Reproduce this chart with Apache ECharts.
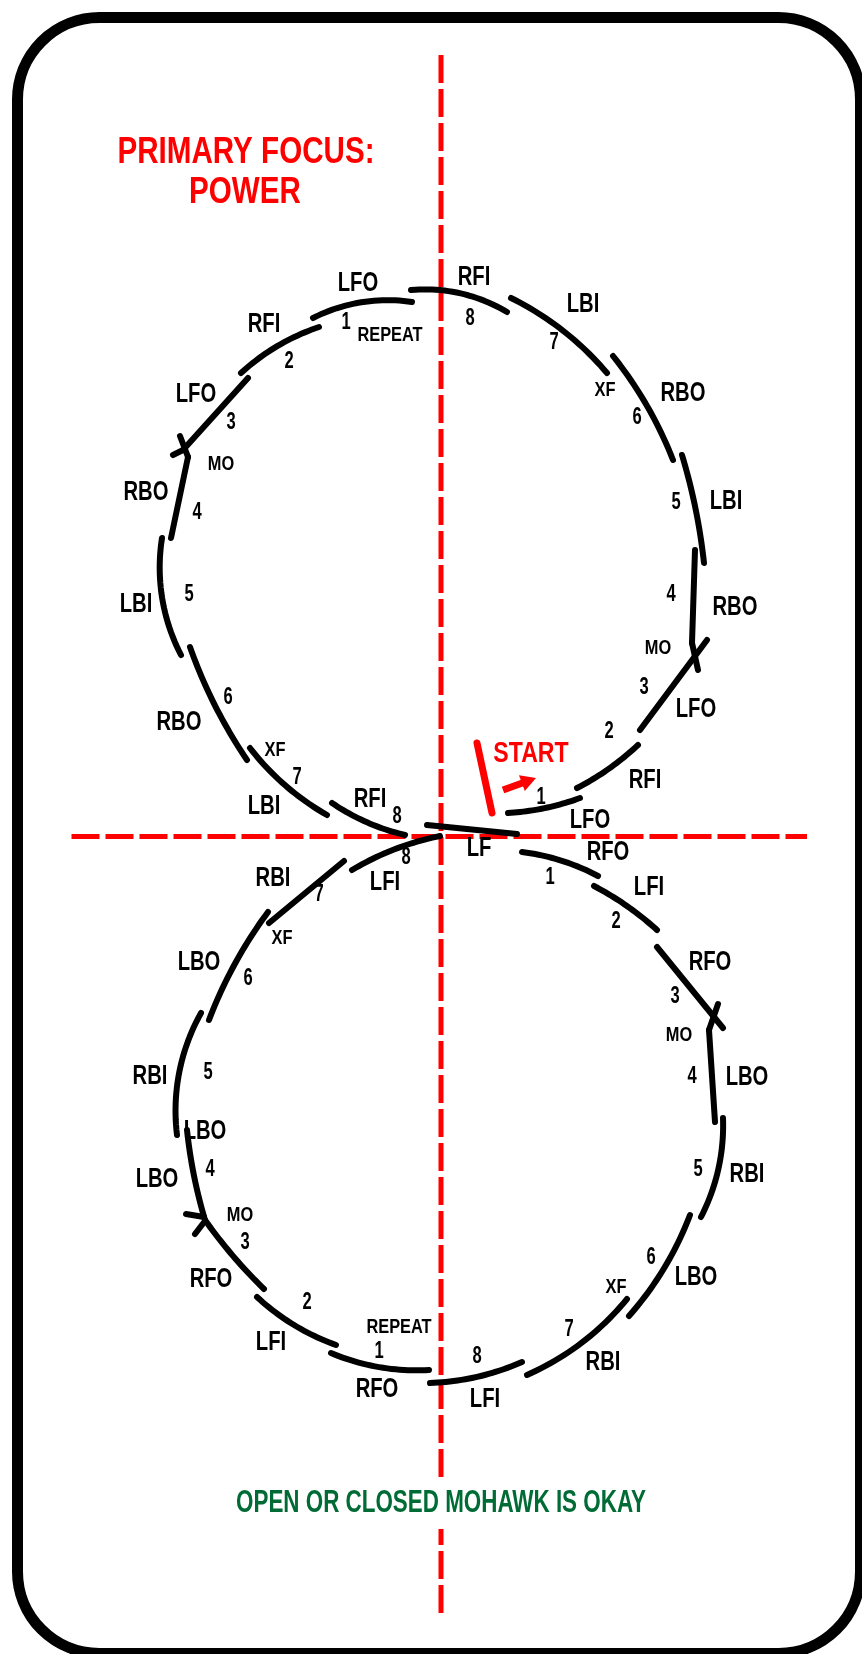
<!DOCTYPE html>
<html>
<head>
<meta charset="utf-8">
<style>
  html, body { margin: 0; padding: 0; background: #fff; }
  #chart { width: 862px; height: 1654px; }
</style>
<script src="https://cdn.jsdelivr.net/npm/echarts@6/dist/echarts.min.js"></script>
</head>
<body>
<div id="chart"></div>
<script>
// Positions are rink pixels: x to the right, y downwards (y axis inverted).
const frame = [17.5, 17.5, 860.5, 1653.5];

const loopCenters = [[432, 562], [448, 1108]];

// one entry per edge: [x1, y1, x2, y2, arc radius (0 = straight), loop]
const edges = [
  [313, 318, 412, 302, 165, 0],   // LFO 1 repeat
  [411, 290, 507, 312, 160, 0],   // RFI 8
  [511, 298, 607, 373, 300, 0],   // LBI 7
  [613, 356, 673, 460, 400, 0],   // RBO 6
  [682, 455, 704, 563, 600, 0],   // LBI 5
  [692, 643, 695, 550, 0, 0],     // RBO 4
  [640, 730, 707, 640, 0, 0],     // LFO 3
  [638, 745, 577, 788, 270, 0],   // RFI 2
  [580, 798, 508, 813, 250, 0],   // LFO 1
  [427, 825, 517, 834, 0, 0],     // LF
  [332, 803, 405, 835, 220, 0],   // RFI 8
  [250, 748, 327, 815, 260, 0],   // LBI 7
  [190, 647, 247, 760, 500, 0],   // RBO 6
  [162, 538, 181, 655, 190, 0],   // LBI 5
  [188, 457, 171, 538, 0, 0],     // RBO 4
  [248, 378, 183, 450, 0, 0],     // LFO 3
  [319, 327, 241, 373, 220, 0],   // RFI 2
  [522, 852, 598, 876, 220, 1],   // RFO 1
  [594, 886, 657, 930, 300, 1],   // LFI 2
  [657, 947, 723, 1028, 0, 1],    // RFO 3
  [709, 1030, 715, 1122, 0, 1],   // LBO 4
  [723, 1118, 701, 1217, 200, 1], // RBI 5
  [690, 1215, 629, 1316, 330, 1], // LBO 6
  [627, 1299, 527, 1375, 270, 1], // RBI 7
  [522, 1362, 430, 1383, 250, 1], // LFI 8
  [429, 1370, 331, 1353, 220, 1], // RFO 1 repeat
  [336, 1345, 257, 1297, 230, 1], // LFI 2
  [264, 1289, 205, 1220, 500, 1], // RFO 3
  [205, 1220, 187, 1130, 500, 1], // LBO 4
  [177, 1135, 201, 1013, 200, 1], // RBI 5
  [209, 1020, 268, 912, 450, 1],  // LBO 6
  [269, 923, 344, 861, 0, 1],     // RBI 7
  [352, 870, 440, 836, 280, 1]    // LFI 8
];

// mohawk crossings: short strokes [x1, y1, x2, y2]
const turnTicks = [
  [183, 450, 173, 455],
  [180, 436, 188, 457],
  [692, 643, 698, 670],
  [718, 1004, 709, 1030],
  [186, 1214, 204, 1217],
  [195, 1234, 205, 1221]
];

const verticalAxis = [[441, 55], [441, 1613]];
const horizontalAxis = [[71.5, 836.5], [807, 836.5]];
const startMark = [[477, 743], [492, 813]];
const startArrow = [[503, 790, 536, 778]];

const edgeLabels = [
  [358, 284, 'LFO'], [474, 278, 'RFI'], [264, 325, 'RFI'], [583, 305, 'LBI'],
  [196, 395, 'LFO'], [683, 394, 'RBO'], [146, 493, 'RBO'], [136, 605, 'LBI'],
  [179, 723, 'RBO'], [264, 807, 'LBI'], [370, 800, 'RFI'], [726, 502, 'LBI'],
  [735, 608, 'RBO'], [696, 710, 'LFO'], [645, 781, 'RFI'], [590, 821, 'LFO'],
  [479, 849, 'LF'],
  [608, 853, 'RFO'], [649, 888, 'LFI'], [710, 963, 'RFO'], [747, 1078, 'LBO'],
  [747, 1175, 'RBI'], [696, 1278, 'LBO'], [603, 1363, 'RBI'], [485, 1400, 'LFI'],
  [377, 1390, 'RFO'], [271, 1343, 'LFI'], [211, 1280, 'RFO'], [157, 1180, 'LBO'],
  [205, 1132, 'LBO'], [150, 1077, 'RBI'], [199, 963, 'LBO'], [273, 879, 'RBI'],
  [385, 883, 'LFI']
];

const countLabels = [
  [346, 323, '1'], [470, 319, '8'], [289, 362, '2'], [554, 343, '7'],
  [231, 423, '3'], [637, 418, '6'], [197, 513, '4'], [189, 595, '5'],
  [228, 698, '6'], [297, 778, '7'], [397, 817, '8'], [676, 503, '5'],
  [671, 595, '4'], [644, 688, '3'], [609, 732, '2'], [541, 798, '1'],
  [550, 878, '1'], [616, 922, '2'], [675, 997, '3'], [692, 1077, '4'],
  [698, 1170, '5'], [651, 1258, '6'], [569, 1330, '7'], [477, 1357, '8'],
  [379, 1352, '1'], [307, 1303, '2'], [245, 1243, '3'], [210, 1170, '4'],
  [208, 1073, '5'], [248, 979, '6'], [319, 895, '7'], [406, 858, '8']
];

const noteLabels = [
  [390, 335, 'REPEAT'], [605, 390, 'XF'], [221, 464, 'MO'], [275, 750, 'XF'],
  [658, 648, 'MO'], [679, 1035, 'MO'], [616, 1287, 'XF'], [399, 1327, 'REPEAT'],
  [240, 1215, 'MO'], [282, 938, 'XF']
];

const titleLines = [[246, 153, 'PRIMARY FOCUS:'], [245, 193, 'POWER']];
const startLabel = [[531, 754, 'START']];
const footNote = [[441, 1503, 'OPEN OR CLOSED MOHAWK IS OKAY']];

const FONT = '"Liberation Sans", Arial, sans-serif';
const RED = '#ff0000';

// circular arc through both ends, bulging away from the loop centre
function arcPoints(e) {
  const [x1, y1, x2, y2, r, loop] = e;
  if (!r) return [[x1, y1], [x2, y2]];
  const c = loopCenters[loop];
  const mx = (x1 + x2) / 2, my = (y1 + y2) / 2;
  const dx = x2 - x1, dy = y2 - y1, len = Math.hypot(dx, dy);
  const h = len / 2;
  const rr = Math.max(r, h + 0.01);
  let nx = -dy / len, ny = dx / len;
  if (nx * (c[0] - mx) + ny * (c[1] - my) < 0) { nx = -nx; ny = -ny; }
  const d = Math.sqrt(rr * rr - h * h);
  const cx = mx + nx * d, cy = my + ny * d;
  const a1 = Math.atan2(y1 - cy, x1 - cx);
  let da = Math.atan2(y2 - cy, x2 - cx) - a1;
  while (da > Math.PI) da -= 2 * Math.PI;
  while (da < -Math.PI) da += 2 * Math.PI;
  const pts = [];
  for (let i = 0; i <= 24; i++) {
    const a = a1 + da * i / 24;
    pts.push([cx + rr * Math.cos(a), cy + rr * Math.sin(a)]);
  }
  return pts;
}

// condensed bold text: the page font squeezed sideways
function textSeries(list, opts) {
  return {
    type: 'custom',
    coordinateSystem: 'cartesian2d',
    silent: true,
    z: 5,
    data: list.map((l) => [l[0], l[1]]),
    renderItem(params, api) {
      const l = list[params.dataIndex];
      const p = api.coord([l[0], l[1]]);
      return {
        type: 'text',
        x: p[0],
        y: p[1],
        scaleX: opts.scaleX,
        style: Object.assign({
          text: l[2],
          fill: opts.color,
          fontFamily: FONT,
          fontWeight: 'bold',
          fontSize: opts.size,
          align: 'center',
          verticalAlign: 'middle',
          textAlign: 'center',
          textVerticalAlign: 'middle'
        }, opts.extra || {})
      };
    }
  };
}

const chart = echarts.init(document.getElementById('chart'), null, { renderer: 'canvas' });

chart.setOption({
  backgroundColor: '#fff',
  animation: false,
  grid: { left: 0, right: 0, top: 0, bottom: 0 },
  xAxis: { type: 'value', min: 0, max: 862, show: false },
  yAxis: { type: 'value', min: 0, max: 1654, inverse: true, show: false },
  series: [
    {
      type: 'custom',
      coordinateSystem: 'cartesian2d',
      silent: true,
      z: 1,
      data: [frame],
      renderItem(params, api) {
        const a = api.coord([frame[0], frame[1]]);
        const b = api.coord([frame[2], frame[3]]);
        return {
          type: 'rect',
          shape: { x: a[0], y: a[1], width: b[0] - a[0], height: b[1] - a[1], r: 82 },
          style: { fill: null, stroke: '#000', lineWidth: 11 }
        };
      }
    },
    {
      type: 'line',
      data: verticalAxis,
      symbol: 'none',
      silent: true,
      z: 2,
      lineStyle: { color: RED, width: 5, type: [28, 6], cap: 'butt' }
    },
    {
      type: 'line',
      data: horizontalAxis,
      symbol: 'none',
      silent: true,
      z: 2,
      lineStyle: { color: RED, width: 5, type: [28, 6], cap: 'butt' }
    },
    {
      type: 'custom',
      coordinateSystem: 'cartesian2d',
      silent: true,
      z: 3,
      data: edges.map((e) => [e[0], e[1]]),
      renderItem(params, api) {
        const pts = arcPoints(edges[params.dataIndex]).map((p) => api.coord(p));
        return {
          type: 'polyline',
          shape: { points: pts },
          style: { stroke: '#000', lineWidth: 6, fill: null, lineCap: 'round', lineJoin: 'round' }
        };
      }
    },
    {
      type: 'custom',
      coordinateSystem: 'cartesian2d',
      silent: true,
      z: 3,
      data: turnTicks.map((t) => [t[0], t[1]]),
      renderItem(params, api) {
        const t = turnTicks[params.dataIndex];
        return {
          type: 'polyline',
          shape: { points: [api.coord([t[0], t[1]]), api.coord([t[2], t[3]])] },
          style: { stroke: '#000', lineWidth: 6, fill: null, lineCap: 'round' }
        };
      }
    },
    {
      type: 'line',
      data: startMark,
      symbol: 'none',
      silent: true,
      z: 4,
      lineStyle: { color: RED, width: 7, cap: 'round' }
    },
    {
      type: 'custom',
      coordinateSystem: 'cartesian2d',
      silent: true,
      z: 4,
      data: startArrow.map((a) => [a[0], a[1]]),
      renderItem(params, api) {
        const a = startArrow[params.dataIndex];
        const p1 = api.coord([a[0], a[1]]);
        const p2 = api.coord([a[2], a[3]]);
        const dx = p2[0] - p1[0], dy = p2[1] - p1[1], len = Math.hypot(dx, dy);
        const ux = dx / len, uy = dy / len;
        const bx = p2[0] - ux * 15, by = p2[1] - uy * 15;
        return {
          type: 'group',
          children: [
            {
              type: 'polyline',
              shape: { points: [p1, [bx + ux * 2, by + uy * 2]] },
              style: { stroke: RED, lineWidth: 7, fill: null }
            },
            {
              type: 'polygon',
              shape: { points: [p2, [bx - uy * 8.5, by + ux * 8.5], [bx + uy * 8.5, by - ux * 8.5]] },
              style: { fill: RED }
            }
          ]
        };
      }
    },
    textSeries(edgeLabels, { size: 27, color: '#000', scaleX: 0.75 }),
    textSeries(countLabels, { size: 23, color: '#000', scaleX: 0.72 }),
    textSeries(noteLabels, { size: 21, color: '#000', scaleX: 0.78 }),
    textSeries(titleLines, { size: 37, color: RED, scaleX: 0.8 }),
    textSeries(startLabel, { size: 30, color: RED, scaleX: 0.77 }),
    textSeries(footNote, {
      size: 32, color: '#006b35', scaleX: 0.7,
      extra: { backgroundColor: '#fff', padding: [10, 6], lineHeight: 32 }
    })
  ]
});
</script>
</body>
</html>
